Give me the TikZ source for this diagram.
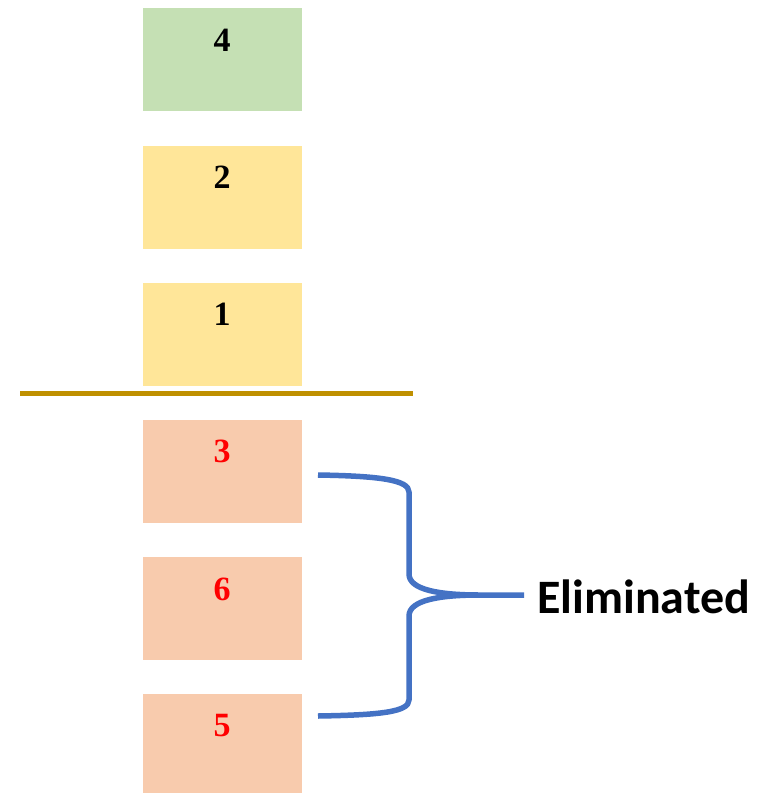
\documentclass[tikz,border=0pt]{standalone}
\usepackage{fontspec}
\setmainfont{Liberation Serif}
\newfontfamily\labelfont{Carlito}
\definecolor{boxgreen}{HTML}{C5E0B4}
\definecolor{boxyellow}{HTML}{FFE699}
\definecolor{boxorange}{HTML}{F8CBAD}
\definecolor{sepline}{HTML}{BF9000}
\definecolor{bracecol}{HTML}{4472C4}
\begin{document}
\begin{tikzpicture}[x=1pt,y=-1pt,
  cell/.style={inner sep=0pt, minimum width=159pt, minimum height=103pt, anchor=north west},
  num/.style={font=\fontsize{34}{34}\selectfont\bfseries, inner sep=0pt}]
\useasboundingbox (0,0) rectangle (766,793);
\node[cell, fill=boxgreen] (b4) at (143,8) {};
\node[cell, fill=boxyellow] (b2) at (143,146) {};
\node[cell, fill=boxyellow] (b1) at (143,283) {};
\node[cell, fill=boxorange] (b3) at (143,420) {};
\node[cell, fill=boxorange] (b6) at (143,557) {};
\node[cell, fill=boxorange, minimum height=99pt] (b5) at (143,694) {};
\node[num] at (222,40) {4};
\node[num] at (222,177) {2};
\node[num] at (222,314) {1};
\node[num, text=red] at (222,451) {3};
\node[num, text=red] at (222,589) {6};
\node[num, text=red] at (222,726) {5};
\coordinate (l1) at (20,393.5);
\coordinate (l2) at (413,393.5);
\draw[sepline, line width=5pt] (l1) -- (l2);
\coordinate (bt) at (318,475);
\coordinate (bb) at (318,716);
\coordinate (tip) at (524,595);
\draw[bracecol, line width=5.5pt, line join=round]
  (bt) .. controls (380,476) and (409,480) .. (409,492)
  -- (409,574) .. controls (409,590) and (440,595) .. (480,595) -- (tip)
  (480,595) .. controls (440,595) and (409,600) .. (409,616)
  -- (409,700) .. controls (409,712) and (380,715) .. (bb);
\node[font=\labelfont\fontsize{48}{48}\selectfont\bfseries, anchor=west, inner sep=0pt] (lab) at (537,597) {Eliminated};
\end{tikzpicture}
\end{document}
